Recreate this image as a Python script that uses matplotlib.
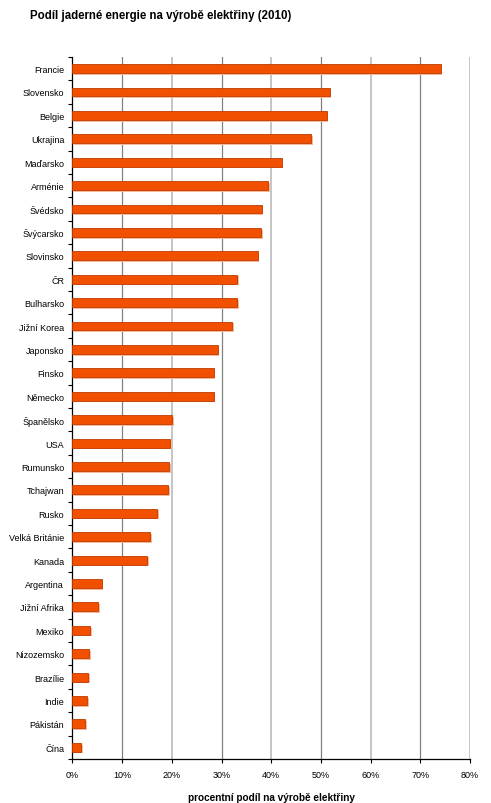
"""Horizontal bar chart: share of nuclear energy in electricity production (2010)."""
import matplotlib
matplotlib.use("Agg")
import matplotlib.pyplot as plt
import matplotlib.patheffects as pe
from matplotlib.ticker import FixedLocator

plt.rcParams['font.family'] = ['Liberation Sans', 'DejaVu Sans']

# data, top to bottom as in the picture
countries = ["Francie", "Slovensko", "Belgie", "Ukrajina", "Maďarsko", "Arménie",
             "Švédsko", "Švýcarsko", "Slovinsko", "ČR", "Bulharsko", "Jižní Korea",
             "Japonsko", "Finsko", "Německo", "Španělsko", "USA", "Rumunsko",
             "Tchajwan", "Rusko", "Velká Británie", "Kanada", "Argentina",
             "Jižní Afrika", "Mexiko", "Nizozemsko", "Brazílie", "Indie",
             "Pákistán", "Čína"]
shares = [74.1, 51.8, 51.2, 48.1, 42.1, 39.4,
          38.1, 38.0, 37.3, 33.1, 33.1, 32.2,
          29.2, 28.4, 28.4, 20.1, 19.6, 19.5,
          19.3, 17.1, 15.7, 15.1, 5.9,
          5.2, 3.6, 3.4, 3.1, 2.9,
          2.6, 1.8]
x_ticks = [0, 10, 20, 30, 40, 50, 60, 70, 80]

fig = plt.figure(figsize=(4.91, 8.04), dpi=100)
ax = fig.add_axes([0.1476, 0.0547, 0.957 - 0.1476, 0.928 - 0.0547])

ypos = list(range(len(countries)))
bars = ax.barh(ypos, shares, height=0.38, color="#f05000", edgecolor="#c03c00",
               linewidth=0.6, zorder=3)
for b in bars:
    b.set_path_effects([pe.SimplePatchShadow(offset=(1.2, -1.2),
                                             shadow_rgbFace="#f8b898", alpha=1.0),
                        pe.Normal()])

ax.set_xlim(0, 80)
ax.set_ylim(len(countries) - 0.5, -0.5)

# alternating dark / light vertical grid lines
for i, t in enumerate(x_ticks[1:]):
    col = "#808080" if i % 2 == 0 else "#c0c0c0"
    lw = 0.9 if i % 2 == 0 else 1.3
    ax.axvline(t, color=col, linewidth=lw, zorder=1)

ax.set_xticks(x_ticks)
ax.set_xticklabels([f"{t}%" for t in x_ticks], fontsize=6.5)
ax.set_yticks(ypos)
ax.set_yticklabels(countries, fontsize=6.5)
ax.tick_params(axis='y', length=0, pad=6)
ax.yaxis.set_minor_locator(FixedLocator([p - 0.5 for p in ypos] + [len(ypos) - 0.5]))
ax.tick_params(axis='y', which='minor', length=3, width=0.8, color="black")
ax.tick_params(axis='x', length=3, width=0.8, pad=5)

for side in ("top", "right"):
    ax.spines[side].set_visible(False)
ax.spines["left"].set_linewidth(0.9)
ax.spines["bottom"].set_linewidth(0.9)

ax.set_xlabel("procentní podíl na výrobě elektřiny", fontsize=7.2,
              fontweight="bold", labelpad=9)
fig.text(0.061, 0.987, "Podíl jaderné energie na výrobě elektřiny (2010)",
         fontsize=8.3, fontweight="bold", va="top", ha="left")

fig.savefig("out.png", dpi=100)
